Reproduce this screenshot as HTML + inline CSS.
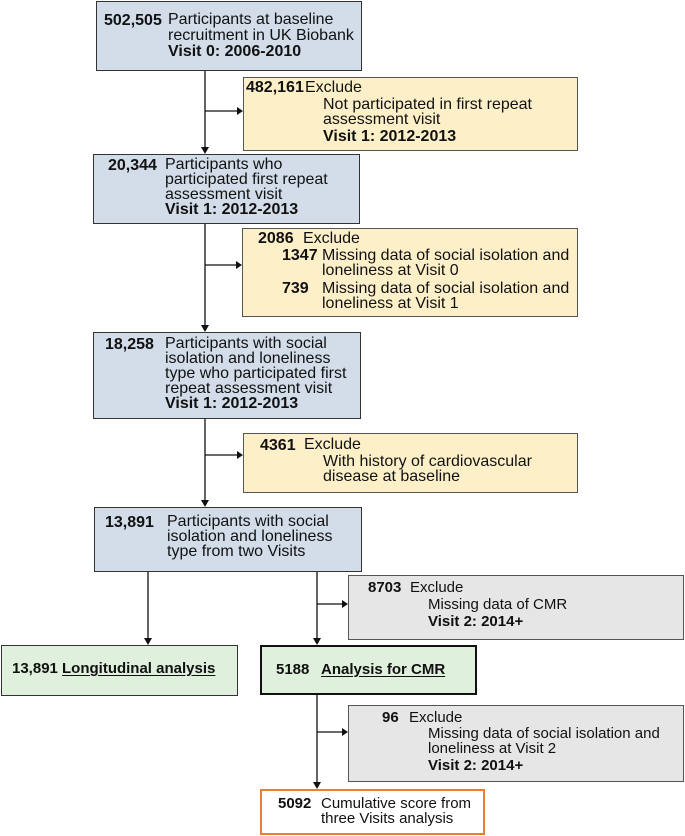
<!DOCTYPE html>
<html><head><meta charset="utf-8"><style>
body{margin:0;width:685px;height:836px;position:relative;background:#fff;font-family:"Liberation Sans",Arial,sans-serif;font-size:16px;color:#111;overflow:hidden}
.b{position:absolute;box-sizing:border-box;border:1.5px solid #333}
.blue{background:#d2dde9}
.yel{background:#fdf0c9;border-color:#555}
.gry{background:#e6e6e6;border-color:#555}
.grn{background:#dff0dc}
.t{position:absolute;line-height:15px;white-space:nowrap}
.s{font-size:15px}
.n{font-weight:bold}
u{text-underline-offset:2px}
svg{position:absolute;left:0;top:0}
</style></head><body>
<div class="b blue" style="left:96px;top:1px;width:266px;height:70px"></div>
<div class="b yel" style="left:243px;top:77px;width:335px;height:74px"></div>
<div class="b blue" style="left:93px;top:154px;width:267px;height:70px"></div>
<div class="b yel" style="left:242px;top:228px;width:336px;height:89px"></div>
<div class="b blue" style="left:93px;top:332px;width:268px;height:87px"></div>
<div class="b yel" style="left:243px;top:433px;width:335px;height:60px"></div>
<div class="b blue" style="left:94px;top:507px;width:268px;height:65px"></div>
<div class="b gry" style="left:348px;top:575px;width:336px;height:65px"></div>
<div class="b grn" style="left:1px;top:645px;width:237px;height:51px"></div>
<div class="b grn" style="left:260px;top:645px;width:217px;height:50px;border-width:2.5px;border-color:#111"></div>
<div class="b gry" style="left:348px;top:705px;width:336px;height:77px"></div>
<div class="b" style="left:260px;top:789px;width:225px;height:46px;border:2.5px solid #ed7d31;background:#fff"></div>

<div class="t n" style="left:104px;top:13px">502,505</div>
<div class="t" style="left:168px;top:12px;line-height:16px">Participants at baseline<br>recruitment in UK Biobank<br><b>Visit 0: 2006-2010</b></div>

<div class="t n" style="left:246px;top:80px">482,161</div>
<div class="t" style="left:305px;top:80px">Exclude</div>
<div class="t" style="left:323px;top:97px">Not participated in first repeat<br>assessment visit</div>
<div class="t n" style="left:323px;top:129px">Visit 1: 2012-2013</div>

<div class="t n" style="left:108px;top:158px">20,344</div>
<div class="t" style="left:165px;top:157px">Participants who<br>participated first repeat<br>assessment visit<br><b>Visit 1: 2012-2013</b></div>

<div class="t n" style="left:258px;top:231px">2086</div>
<div class="t" style="left:303px;top:231px">Exclude</div>
<div class="t n" style="left:282px;top:248px">1347</div>
<div class="t" style="left:322px;top:248px">Missing data of social isolation and<br>loneliness at Visit 0</div>
<div class="t n" style="left:282px;top:281px">739</div>
<div class="t" style="left:322px;top:281px">Missing data of social isolation and<br>loneliness at Visit 1</div>

<div class="t n" style="left:105px;top:337px">18,258</div>
<div class="t" style="left:165px;top:336px">Participants with social<br>isolation and loneliness<br>type who participated first<br>repeat assessment visit<br><b>Visit 1: 2012-2013</b></div>

<div class="t n" style="left:260px;top:438px">4361</div>
<div class="t" style="left:304px;top:437px">Exclude</div>
<div class="t" style="left:323px;top:454px">With history of cardiovascular<br>disease at baseline</div>

<div class="t n" style="left:105px;top:515px">13,891</div>
<div class="t" style="left:167px;top:514px">Participants with social<br>isolation and loneliness<br>type from two Visits</div>

<div class="t n s" style="left:368px;top:580px">8703</div>
<div class="t s" style="left:410px;top:580px">Exclude</div>
<div class="t s" style="left:428px;top:597px">Missing data of CMR</div>
<div class="t n s" style="left:428px;top:614px">Visit 2: 2014+</div>

<div class="t n s" style="left:12px;top:661px">13,891</div>
<div class="t n s" style="left:62px;top:661px"><u>Longitudinal analysis</u></div>
<div class="t n s" style="left:276px;top:662px">5188</div>
<div class="t n s" style="left:321px;top:662px"><u>Analysis for CMR</u></div>

<div class="t n s" style="left:382px;top:710px">96</div>
<div class="t s" style="left:409px;top:710px">Exclude</div>
<div class="t s" style="left:428px;top:726px">Missing data of social isolation and<br>loneliness at Visit 2</div>
<div class="t n s" style="left:428px;top:758px">Visit 2: 2014+</div>

<div class="t n s" style="left:278px;top:796px">5092</div>
<div class="t s" style="left:321px;top:796px">Cumulative score from<br>three Visits analysis</div>

<svg width="685" height="836">
<g stroke="#111" stroke-width="1.3" fill="none">
<line x1="205" y1="71" x2="205" y2="148"/><line x1="205" y1="111" x2="237" y2="111"/>
<line x1="205" y1="224" x2="205" y2="326"/><line x1="205" y1="265" x2="236" y2="265"/>
<line x1="205" y1="419" x2="205" y2="501"/><line x1="205" y1="455" x2="237" y2="455"/>
<line x1="148" y1="572" x2="148" y2="639"/>
<line x1="317" y1="572" x2="317" y2="639"/><line x1="317" y1="604" x2="342" y2="604"/>
<line x1="317" y1="695" x2="317" y2="783"/><line x1="317" y1="732" x2="342" y2="732"/>
</g>
<g fill="#111">
<polygon points="201,147 209,147 205,154"/><polygon points="237,107 237,115 243,111"/>
<polygon points="201,325 209,325 205,332"/><polygon points="236,261 236,269 242,265"/>
<polygon points="201,500 209,500 205,507"/><polygon points="237,451 237,459 243,455"/>
<polygon points="144,638 152,638 148,645"/>
<polygon points="313,638 321,638 317,645"/><polygon points="342,600 342,608 348,604"/>
<polygon points="313,782 321,782 317,789"/><polygon points="342,728 342,736 348,732"/>
</g>
</svg>
</body></html>
